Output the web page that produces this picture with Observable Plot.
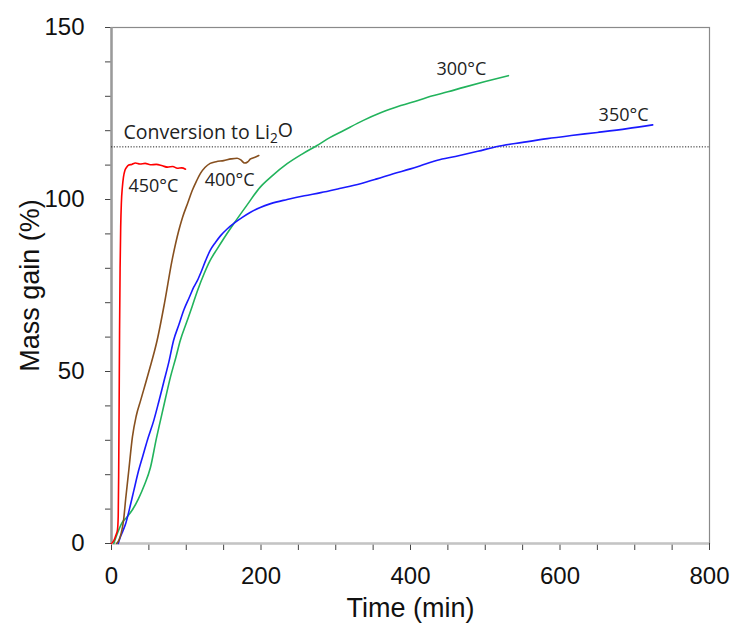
<!DOCTYPE html>
<html><head><meta charset="utf-8">
<script src="https://cdn.jsdelivr.net/npm/d3@7"></script>
<script src="https://cdn.jsdelivr.net/npm/@observablehq/plot@0.6"></script>
<style>body{margin:0;background:#fff}</style>
</head><body><div id="chart"></div>
<script>
// Time (min) and mass gain (%)
const t450 = [0, 3, 6, 8, 9, 9.6, 10.2, 10.8, 11.5, 12.3, 13.2, 14.5, 16, 18, 20, 23, 27, 32, 38, 45, 52, 60, 68, 75, 82, 88, 94, 99];
const m450 = [0, 0.8, 2.5, 4, 8, 20, 40, 62, 80, 92, 99, 103.5, 106.5, 108.5, 109.3, 110, 110.2, 110.6, 110.3, 110.5, 110.1, 110.2, 109.8, 109.4, 109.6, 109.1, 109.2, 108.8];

const t400 = [7, 10, 13, 16, 19, 23, 28, 33, 39, 50, 61, 71, 81, 90, 95, 102, 108, 114, 119, 125, 132, 140, 150, 160, 168, 173, 178, 182, 186, 191, 197];
const m400 = [0, 1, 3, 6.5, 13, 21, 31, 37, 41.6, 50, 59, 70, 82.3, 91, 94.8, 99, 102.6, 105.5, 107.6, 109.3, 110.5, 111, 111.3, 111.8, 112, 111.5, 110.6, 110.9, 111.8, 112.2, 112.8];

const t350 = [9, 12, 15, 19, 24, 30, 36, 42, 48, 56.6, 63, 70, 77, 83, 90, 97, 104, 110, 115, 120, 126, 132, 139, 146, 155, 164, 175, 186, 199, 213, 235, 258, 280, 305, 333, 355, 377, 400, 420, 436, 460, 490, 516, 550, 583, 615, 650, 690, 724];
const m350 = [0, 2, 3.5, 5.8, 10, 15.5, 21, 25.5, 30, 35.8, 41, 47, 53, 59, 63.5, 68, 71.5, 74.5, 76.5, 79, 82.3, 85.2, 87.5, 89.5, 91.5, 93.1, 94.8, 96.3, 97.7, 98.8, 100, 101.1, 102, 103.2, 104.6, 106, 107.5, 108.9, 110.3, 111.4, 112.5, 114, 115.4, 116.6, 117.7, 118.6, 119.5, 120.6, 121.7];

const t300 = [3, 8, 14, 20, 28, 36, 44, 52, 60, 65.5, 72, 79, 86, 92, 100, 108, 115, 124, 132, 141, 150, 164, 181, 199, 213, 235, 255, 275, 292, 310, 337, 360, 387, 410, 427, 450, 471, 500, 531];
const m300 = [0, 3, 6, 7.5, 9.8, 13, 17, 22, 30.5, 35.8, 42, 48.5, 54, 59, 64, 69, 73.5, 78.5, 82.3, 85.5, 88.6, 93.1, 98.3, 103.6, 106.5, 110.4, 113.2, 115.7, 118, 120, 123, 125.2, 127.3, 128.8, 130, 131.3, 132.6, 134.3, 136];

const li2oLevel = 115.3;

const tempLabels = ["450°C", "400°C", "300°C", "350°C"];
const tempLabelTime = [56, 158, 468, 685];
const tempLabelMass = [104, 105.5, 138, 124.4];
const convLabel = ["Conversion to Li2O"];
const convLabelTime = [16];
const convLabelMass = [119.4];

const yTicks = d3.range(0, 151, 10);
const xTicks = d3.range(0, 801, 50);

const toRows = (t, m) => t.map((d, i) => ({t: d, m: m[i]}));
const lineOpts = {x: "t", y: "m", strokeWidth: 1.6, curve: "monotone-x"};

const chart = Plot.plot({
  width: 732,
  height: 623,
  marginLeft: 111,
  marginRight: 23,
  marginTop: 27,
  marginBottom: 80,
  style: {fontFamily: "'Liberation Sans', Arial, sans-serif", color: "#111", background: "#fff"},
  x: {domain: [0, 800]},
  y: {domain: [0, 150]},
  marks: [
    Plot.frame({stroke: "#8a8a8a", strokeWidth: 1.2}),
    Plot.axisY({ticks: yTicks, tickSize: 6, tickPadding: 21, fontSize: 24, label: null,
      tickFormat: d => d % 50 === 0 ? d : "", stroke: "#444"}),
    Plot.axisX({ticks: xTicks, tickSize: 7, tickPadding: 16, fontSize: 24, label: null,
      tickFormat: d => d % 200 === 0 ? d : "", stroke: "#444"}),
    Plot.ruleX([0], {stroke: "#9a9a9a", strokeWidth: 2.5}),
    Plot.ruleY([0], {stroke: "#c4c4c4", strokeWidth: 2.5}),
    Plot.ruleY([li2oLevel], {x1: 0, x2: 800, stroke: "#222", strokeWidth: 1, strokeDasharray: "1.2,1.6"}),
    Plot.line(toRows(t300, m300), {...lineOpts, stroke: "#22b35c"}),
    Plot.line(toRows(t350, m350), {...lineOpts, stroke: "#1a1aff"}),
    Plot.line(toRows(t400, m400), {...lineOpts, stroke: "#87501f"}),
    Plot.line(toRows(t450, m450), {...lineOpts, stroke: "#ff0000"}),
    Plot.text(tempLabels, {x: (d, i) => tempLabelTime[i], y: (d, i) => tempLabelMass[i], text: d => d,
      textAnchor: "middle", fontSize: 18, fill: "#222",
      fontFamily: "'Open Sans', 'Noto Sans', sans-serif"}),
    Plot.text(convLabel, {x: (d, i) => convLabelTime[i], y: (d, i) => convLabelMass[i], text: d => d,
      textAnchor: "start", fontSize: 19.5, fill: "#222",
      fontFamily: "'Open Sans', 'Noto Sans', sans-serif"}),
    Plot.text(["Mass gain (%)"], {frameAnchor: "left", dx: -81, rotate: -90, textAnchor: "middle",
      lineAnchor: "middle", fontSize: 27, fill: "#111"}),
    Plot.text(["Time (min)"], {frameAnchor: "bottom", dy: 65, textAnchor: "middle",
      lineAnchor: "middle", fontSize: 27, fill: "#111"})
  ]
});

// subscript in Li2O
d3.select(chart).selectAll("text").each(function() {
  if (this.textContent === "Conversion to Li2O") {
    const sel = d3.select(this);
    sel.text(null);
    sel.append("tspan").text("Conversion to Li");
    sel.append("tspan").attr("font-size", "0.7em").attr("dy", "0.3em").text("2");
    sel.append("tspan").attr("dy", "-0.3em").text("O");
  }
});

document.getElementById("chart").appendChild(chart);
</script>
</body></html>
